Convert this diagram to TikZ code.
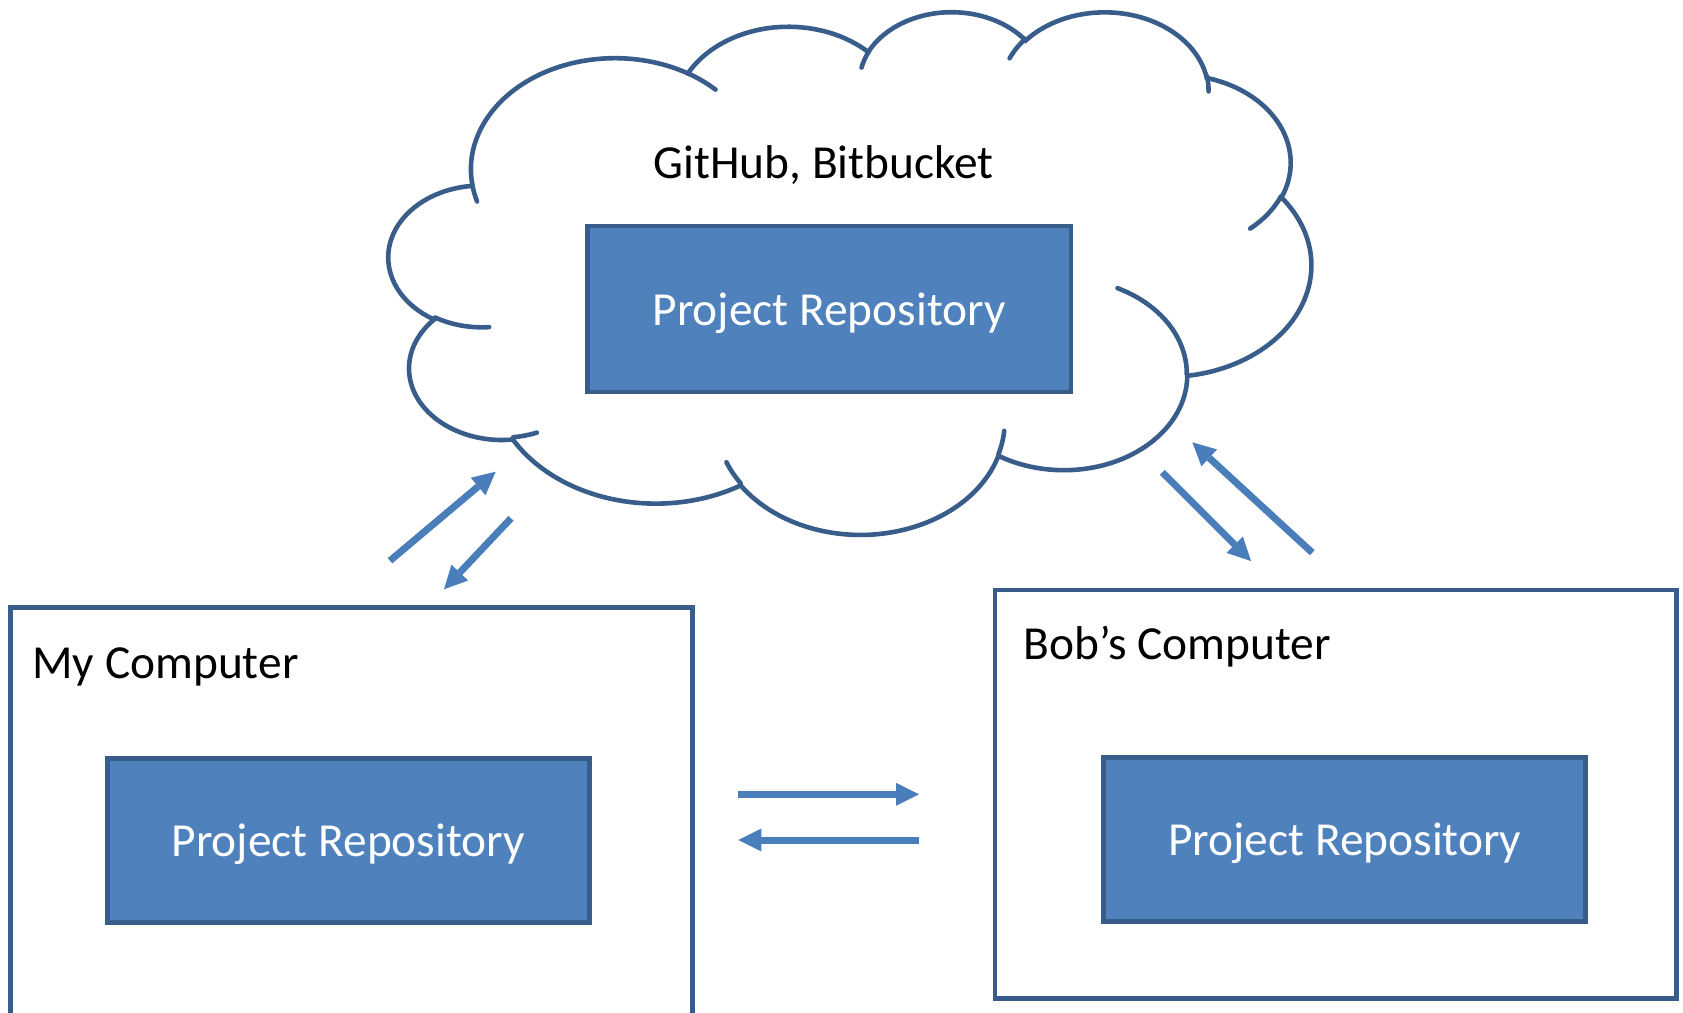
\documentclass[tikz,border=0pt]{standalone}
\usepackage{fontspec}
\setmainfont{Carlito}
\usetikzlibrary{arrows.meta}
\definecolor{boxfill}{HTML}{4F81BD}
\definecolor{boxline}{HTML}{385D8A}
\definecolor{arrowc}{HTML}{4A7EBB}
% visual (OOXML) angles -> parametric angles for TikZ arcs
\newcommand\cloudang[5]{%
  \pgfmathsetmacro\cloudtA{atan2((#2)*sin(#4),(#3)*cos(#4))}%
  \pgfmathsetmacro\cloudtB{atan2((#2)*sin((#4)+(#5)),(#3)*cos((#4)+(#5)))}%
  \pgfmathsetmacro\cloudtD{\cloudtB-\cloudtA}%
  \pgfmathsetmacro\cloudtD{\cloudtD+360*round(((#5)-\cloudtD)/360)}%
  \expandafter\xdef\csname cloudS#1\endcsname{\cloudtA}%
  \expandafter\xdef\csname cloudD#1\endcsname{\cloudtD}%
}
\begin{document}
\begin{tikzpicture}[x=0.5pt,y=-0.5pt,
  repo/.style={draw=boxline, fill=boxfill, line width=2.4pt, minimum width=241pt,
    minimum height=82pt, text=white, font=\fontsize{23.7}{28}\selectfont,
    text height=22pt, text depth=6pt, inner sep=0pt},
  machine/.style={draw=boxline, line width=2.4pt, inner sep=0pt},
  cptext/.style={font=\fontsize{23.7}{28}\selectfont, text=black, inner sep=0pt, anchor=base west},
  cloudline/.style={draw=boxline, line width=2.3pt, line cap=round},
  flow/.style={draw=arrowc, line width=3.5pt, -{Triangle[length=11.5pt,width=11.5pt,line width=0pt]}}
]
\useasboundingbox (0,0) rectangle (1683,1013);

% ---- cloud angles ----
\cloudang{a}{6753}{9190}{-190.48748}{123.78053}
\cloudang{b}{5333}{7267}{-144.10238}{89.94523}
\cloudang{c}{4365}{5945}{-145.80792}{99.72302}
\cloudang{d}{4857}{6595}{-130.98607}{117.24173}
\cloudang{e}{5333}{7273}{-78.70888}{109.02692}
\cloudang{f}{6775}{9220}{-46.26725}{130.269}
\cloudang{g}{5785}{7867}{0.62502}{114.03333}
\cloudang{h}{6752}{9215}{22.4516}{115.17255}
\cloudang{i}{7720}{10543}{66.24263}{75.71102}
\cloudang{j}{4360}{5918}{-274.94208}{146.73557}
\cloudang{k}{4345}{5945}{-246.8285}{152.51885}
\cloudang{p}{4345}{5945}{86.742}{26.4295}
\cloudang{q}{4360}{5918}{73.61047}{11.44747}
\cloudang{r}{6752}{9215}{137.62415}{14.0811}
\cloudang{s}{6752}{9215}{6.45327}{15.99835}
\cloudang{t}{5785}{7867}{-70.29235}{70.91737}
\cloudang{u}{5333}{7273}{30.31803}{27.7515}
\cloudang{v}{4857}{6595}{-13.74433}{14.8589}
\cloudang{w}{4857}{6595}{-149.18145}{18.19537}
\cloudang{x}{4365}{5945}{-163.49427}{17.68635}
\cloudang{y}{6753}{9190}{-66.70695}{12.31935}
\cloudang{z}{6753}{9190}{157.65435}{11.85817}

\begin{scope}[shift={(389,10.5)}, x=1.06713pt, y=-0.60475pt]
\draw[cloudline] (39.00,143.70)
  arc[start angle=\csname cloudSa\endcsname, delta angle=\csname cloudDa\endcsname, x radius=67.53, y radius=91.90]
  arc[start angle=\csname cloudSb\endcsname, delta angle=\csname cloudDb\endcsname, x radius=53.33, y radius=72.67]
  arc[start angle=\csname cloudSc\endcsname, delta angle=\csname cloudDc\endcsname, x radius=43.65, y radius=59.45]
  arc[start angle=\csname cloudSd\endcsname, delta angle=\csname cloudDd\endcsname, x radius=48.57, y radius=65.95]
  arc[start angle=\csname cloudSe\endcsname, delta angle=\csname cloudDe\endcsname, x radius=53.33, y radius=72.73]
  arc[start angle=\csname cloudSf\endcsname, delta angle=\csname cloudDf\endcsname, x radius=67.75, y radius=92.20]
  arc[start angle=\csname cloudSg\endcsname, delta angle=\csname cloudDg\endcsname, x radius=57.85, y radius=78.67]
  arc[start angle=\csname cloudSh\endcsname, delta angle=\csname cloudDh\endcsname, x radius=67.52, y radius=92.15]
  arc[start angle=\csname cloudSi\endcsname, delta angle=\csname cloudDi\endcsname, x radius=77.20, y radius=105.43]
  arc[start angle=\csname cloudSj\endcsname, delta angle=\csname cloudDj\endcsname, x radius=43.60, y radius=59.18]
  arc[start angle=\csname cloudSk\endcsname, delta angle=\csname cloudDk\endcsname, x radius=43.45, y radius=59.45]
  -- cycle;
\draw[cloudline] (46.93,261.77) arc[start angle=\csname cloudSp\endcsname, delta angle=\csname cloudDp\endcsname, x radius=43.45, y radius=59.45];
\draw[cloudline] (69.28,348.99) arc[start angle=\csname cloudSq\endcsname, delta angle=\csname cloudDq\endcsname, x radius=43.60, y radius=59.18];
\draw[cloudline] (164.78,390.90) arc[start angle=\csname cloudSr\endcsname, delta angle=\csname cloudDr\endcsname, x radius=67.52, y radius=92.15];
\draw[cloudline] (288.27,347.51) arc[start angle=\csname cloudSs\endcsname, delta angle=\csname cloudDs\endcsname, x radius=67.52, y radius=92.15];
\draw[cloudline] (341.29,229.54) arc[start angle=\csname cloudSt\endcsname, delta angle=\csname cloudDt\endcsname, x radius=57.85, y radius=78.67];
\draw[cloudline] (417.98,153.54) arc[start angle=\csname cloudSu\endcsname, delta angle=\csname cloudDu\endcsname, x radius=53.33, y radius=72.73];
\draw[cloudline] (383.24,54.26) arc[start angle=\csname cloudSv\endcsname, delta angle=\csname cloudDv\endcsname, x radius=48.57, y radius=65.95];
\draw[cloudline] (290.78,39.52) arc[start angle=\csname cloudSw\endcsname, delta angle=\csname cloudDw\endcsname, x radius=48.57, y radius=65.95];
\draw[cloudline] (221.41,47.20) arc[start angle=\csname cloudSx\endcsname, delta angle=\csname cloudDx\endcsname, x radius=43.65, y radius=59.45];
\draw[cloudline] (140.00,51.92) arc[start angle=\csname cloudSy\endcsname, delta angle=\csname cloudDy\endcsname, x radius=67.53, y radius=91.90];
\draw[cloudline] (41.27,157.89) arc[start angle=\csname cloudSz\endcsname, delta angle=\csname cloudDz\endcsname, x radius=67.53, y radius=91.90];
\end{scope}

% ---- cloud contents ----
\node[cptext, anchor=base] (hosts) at (823.7,178.6) {GitHub, Bitbucket};
\node[repo, minimum width=241.85pt, minimum height=83pt] (remote) at (829.2,309) {Project Repository};

% ---- computers ----
\node[machine, minimum width=340.8pt, minimum height=216.35pt] (mycomp) at (351.5,823.65) {};
\node[machine, minimum width=340.75pt, minimum height=204.35pt] (bobcomp) at (1335.75,794.35) {};
\node[cptext] (mylabel) at (32,678.3) {My Computer};
\node[cptext] (boblabel) at (1023,659.3) {Bob’s Computer};
\node[repo] (myrepo) at (348.25,840.7) {Project Repository};
\node[repo] (bobrepo) at (1344.85,839.5) {Project Repository};

% ---- arrows ----
\coordinate (a1s) at (390,560.7);   \coordinate (a1e) at (495.7,471.7);
\coordinate (a2s) at (511,518.3);   \coordinate (a2e) at (444,589.3);
\coordinate (a3s) at (1162.3,472.3); \coordinate (a3e) at (1251,561);
\coordinate (a4s) at (1312.3,552.7); \coordinate (a4e) at (1192.3,442.3);
\coordinate (a5s) at (738.3,794.3);  \coordinate (a5e) at (919,794.3);
\coordinate (a6s) at (919.3,840);    \coordinate (a6e) at (738.3,840);
\draw[flow] (a1s) -- (a1e);
\draw[flow] (a2s) -- (a2e);
\draw[flow] (a3s) -- (a3e);
\draw[flow] (a4s) -- (a4e);
\draw[flow] (a5s) -- (a5e);
\draw[flow] (a6s) -- (a6e);
\end{tikzpicture}
\end{document}
